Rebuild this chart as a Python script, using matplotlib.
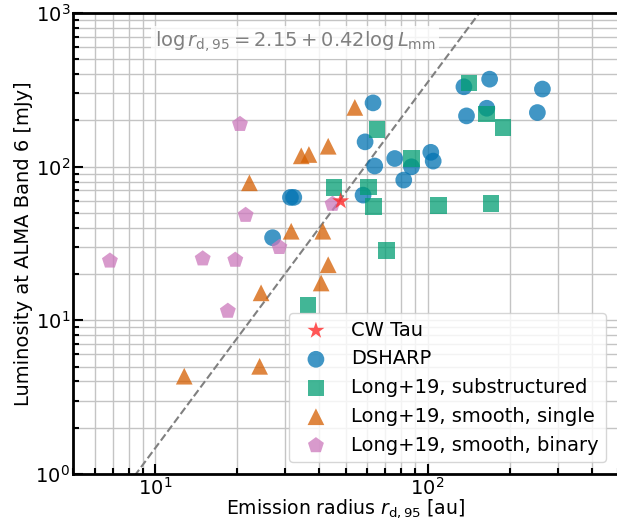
import numpy as np
import matplotlib
matplotlib.use("Agg")
import matplotlib.pyplot as plt

# CW Tau
cw_r = [48.0]
cw_L = [59.7]

# DSHARP
dsharp_r = [63.1, 59.0, 64.0, 75.8, 87.3, 81.8, 102.8, 104.9, 58.0, 31.4, 32.3,
            27.0, 136, 169, 264, 165, 139, 253]
dsharp_L = [260, 145, 101, 113, 99.8, 81.8, 124, 108.7, 65.3, 63.1, 63.1,
            34.5, 331, 371, 320, 240, 214, 225]

# Long+19, substructured
sub_r = [65.3, 45.4, 60.8, 87.3, 63.5, 109.6, 70.8, 36.4, 142, 165, 189, 171]
sub_L = [175, 73.3, 73.6, 113, 54.8, 55.7, 28.4, 12.6, 351, 220, 180, 57.7]

# Long+19, smooth, single
single_r = [22.2, 34.4, 36.7, 43.2, 54.1, 31.6, 41.3, 43.2, 40.7, 24.5, 24.2, 12.8]
single_L = [78.5, 117.6, 120, 135.8, 243, 38.0, 38.0, 23.0, 17.5, 15.1, 5.02, 4.33]

# Long+19, smooth, binary
binary_r = [20.5, 21.5, 6.83, 14.96, 19.7, 18.5, 28.6, 44.8]
binary_L = [189, 48.4, 24.4, 25.2, 24.7, 11.5, 29.9, 57.1]

# fit line: log r = a + b log L
fit_a = 2.19
fit_b = 0.42

fs = 14

fig = plt.figure(figsize=(6.17, 5.22), dpi=100)
ax = fig.add_axes([73/617, 48/522, 545/617, 461/522])

ms = 145
ax.scatter(dsharp_r, dsharp_L, s=ms, marker='o', color='#0173b2', alpha=0.75,
           edgecolors='none', label='DSHARP', zorder=3)
ax.scatter(sub_r, sub_L, s=ms, marker='s', color='#029e73', alpha=0.75,
           edgecolors='none', label='Long+19, substructured', zorder=3)
ax.scatter(single_r, single_L, s=ms, marker='^', color='#d55e00', alpha=0.75,
           edgecolors='none', label='Long+19, smooth, single', zorder=3)
ax.scatter(binary_r, binary_L, s=ms, marker='p', color='#cc78bc', alpha=0.75,
           edgecolors='none', label='Long+19, smooth, binary', zorder=3)
ax.scatter(cw_r, cw_L, s=ms + 20, marker='*', color='#ff2a2a', alpha=0.8,
           edgecolors='none', label='CW Tau', zorder=4)

L_line = np.array([0.5, 2000.0])
r_line = 10**(fit_a + fit_b * (np.log10(L_line) - 3))
ax.plot(r_line, L_line, '--', color='gray', lw=1.5, zorder=2)

ax.text(0.15, 0.937,
        r'$\log r_\mathrm{d,95} = 2.15 + 0.42 \log L_\mathrm{mm}$',
        transform=ax.transAxes, fontsize=fs, color='gray', va='center',
        bbox=dict(facecolor='white', edgecolor='none', alpha=0.8, pad=3),
        zorder=5)

ax.set_xscale('log')
ax.set_yscale('log')
ax.set_xlim(5, 500)
ax.set_ylim(1, 1000)
ax.grid(True, which='both', color='#c4c4c4', lw=1, zorder=0)
ax.set_axisbelow(True)

for s in ax.spines.values():
    s.set_linewidth(2)
ax.tick_params(which='both', direction='in', labelsize=fs, width=1.5, pad=2)
ax.tick_params(which='major', length=7)
ax.tick_params(which='minor', length=4)

ax.set_xlabel(r'Emission radius $r_\mathrm{d,95}$ [au]', fontsize=13.6, labelpad=-1.2)
ax.set_ylabel('Luminosity at ALMA Band 6 [mJy]', fontsize=fs, labelpad=2)

h, l = ax.get_legend_handles_labels()
order = [4, 0, 1, 2, 3]
ax.legend([h[i] for i in order], [l[i] for i in order], loc='lower right',
          fontsize=fs, handletextpad=0.8, borderaxespad=0.6)

fig.savefig('out.png', dpi=100)
